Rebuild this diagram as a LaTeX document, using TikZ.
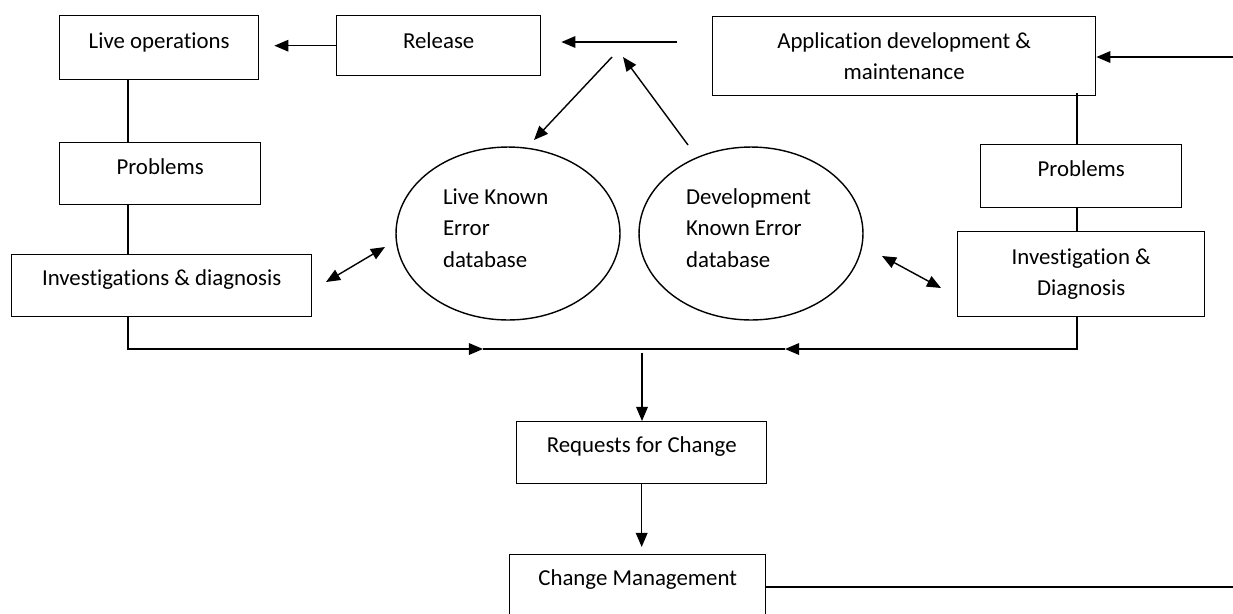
\documentclass[tikz,border=0pt]{standalone}
\usepackage{fontspec}
\setmainfont{Carlito}[Ligatures=NoCommon]
\usetikzlibrary{arrows.meta,shapes.geometric}

\tikzset{
  box/.style={draw, line width=0.8pt, anchor=north west, inner sep=0pt, align=center},
  db/.style={draw, ellipse, line width=0.8pt, inner sep=0pt, minimum width=4.48cm,
    minimum height=3.46cm, text width=2.6cm, align=flush left,
    text height=0.34cm, text depth=1.52cm},
  link/.style={line width=0.8pt},
  arr/.style={link, -{Triangle[length=8pt,width=6.6pt]}},
  dbl/.style={link, {Triangle[length=8pt,width=6.6pt]}-{Triangle[length=8pt,width=6.6pt]}}
}

\begin{document}
\begin{tikzpicture}[x=0.02cm, y=-0.02cm, font=\fontsize{13}{18}\selectfont]
 \useasboundingbox (0,0) rectangle (1233,613);
 \clip (0,0) rectangle (1233,613);

 \node[box, minimum width=3.98cm, text height=0.66cm, text depth=0.62cm] (liveops) at (59,15) {Live operations};
 \node[box, minimum width=4.08cm, text height=0.66cm, text depth=0.54cm] (release) at (336,15) {Release};
 \node[box, minimum width=4.02cm, text height=0.64cm, text depth=0.6cm]  (probl) at (59,142) {Problems};
 \node[box, minimum width=6cm, text height=0.62cm, text depth=0.62cm]    (invl) at (11,254) {Investigations \& diagnosis};
 \node[box, minimum width=7.66cm, minimum height=1.58cm] (app) at (712,16) {Application development \&\\ maintenance};
 \node[box, minimum width=4.02cm, text height=0.64cm, text depth=0.62cm] (probr) at (980,144) {Problems};
 \node[box, minimum width=4.94cm, minimum height=1.7cm] (invr) at (957,231) {Investigation \&\\ Diagnosis};
 \node[box, minimum width=5cm, text height=0.62cm, text depth=0.62cm]    (rfc) at (516,421) {Requests for Change};
 \node[box, minimum width=5.12cm, text height=0.62cm, text depth=1.2cm]  (chg) at (509,554) {Change Management};

 \node[db] (livedb) at (508,233.5) {Live Known\\ Error\\ database};
 \node[db] (devdb)  at (751,233.5) {Development\\ Known Error\\ database};

 \coordinate (lx) at (128,0);
 \coordinate (rx) at (1077,0);
 \coordinate (fork)  at (677,42);
 \coordinate (forkl) at (612,57);
 \coordinate (forkr) at (623,57);
 \coordinate (livetip) at (534,140);
 \coordinate (devtop)  at (688,145);
 \coordinate (livel) at (326,282);
 \coordinate (liver) at (385,247);
 \coordinate (devl) at (882,256);
 \coordinate (devr) at (941,288);
 \coordinate (jl) at (483,349);
 \coordinate (jm) at (642,349);
 \coordinate (jr) at (785,349);
 \coordinate (loopt) at (1240,57);
 \coordinate (loopb) at (1240,587);

 \draw[arr, shorten >=0.3cm] (release.west) -- (release.west -| liveops.east);
 \draw[arr, shorten >=0.4cm] (fork) -- (fork -| release.east);
 \draw[arr] (forkl) -- (livetip);
 \draw[arr] (devtop) -- (forkr);
 \draw[arr] (loopt) -- (loopt -| app.east);

 \draw[link] (liveops.south -| lx) -- (probl.north -| lx);
 \draw[link] (probl.south -| lx) -- (invl.north -| lx);
 \draw[link] ([yshift=2pt]app.south -| rx) -- (probr.north -| rx);
 \draw[link] (probr.south -| rx) -- (invr.north -| rx);

 \draw[dbl] (livel) -- (liver);
 \draw[dbl] (devl) -- (devr);

 \draw[arr] (invl.south -| lx) |- (jl);
 \draw[link] (jl) -- (jr);
 \draw[arr] (invr.south -| rx) |- (jr);
 \draw[arr, shorten <=2pt] (jm) -- (jm |- rfc.north);
 \draw[arr, shorten >=4pt] (rfc.south) -- (rfc.south |- chg.north);
 \draw[link] (chg.east |- loopb) -- (loopb);
\end{tikzpicture}
\end{document}
